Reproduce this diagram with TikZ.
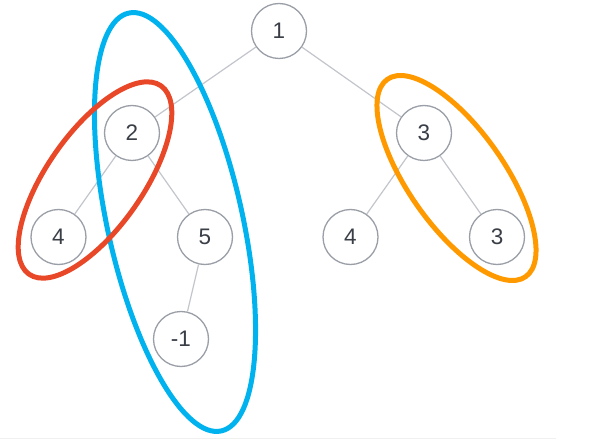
\documentclass[tikz,border=0pt]{standalone}
\usepackage{fontspec}
\setmainfont{Liberation Sans}
\usetikzlibrary{positioning}
\definecolor{ringgray}{HTML}{9A9EA6}
\definecolor{edgegray}{HTML}{C2C5CB}
\definecolor{numgray}{HTML}{3A3E47}
\definecolor{skyblue}{HTML}{00B2EE}
\definecolor{redring}{HTML}{E84828}
\definecolor{orangering}{HTML}{FF9900}

\begin{document}
\begin{tikzpicture}[
    x=1pt, y=1pt,
    on grid,
    vert/.style={circle, draw=ringgray, line width=1.3pt, fill=white, minimum size=55pt, inner sep=0pt, text=numgray, font=\fontsize{22.5}{22.5}\selectfont},
    edge/.style={draw=edgegray, line width=1.2pt},
    ring/.style={line width=5pt}
]
    \useasboundingbox (0,0) rectangle (602,445);

    % Nodes
    \node [vert] (root) at (279,414) {1};
    \node [vert, below left=102pt and 147pt of root] (left) {2};
    \node [vert, below right=102pt and 145pt of root] (right) {3};
    \node [vert, below left=104pt and 73.5pt of left] (leftleft) {4};
    \node [vert, below right=104pt and 73pt of left] (leftright) {5};
    \node [vert, below left=104pt and 73.5pt of right] (rightleft) {4};
    \node [vert, below right=104pt and 73pt of right] (rightright) {3};
    \node [vert, below left=102pt and 24pt of leftright] (leaf) {-1};

    % Paths
    \path [edge] (root) -- (left);
    \path [edge] (root) -- (right);
    \path [edge] (left) -- (leftleft);
    \path [edge] (left) -- (leftright);
    \path [edge] (right) -- (rightleft);
    \path [edge] (right) -- (rightright);
    \path [edge] (leftright) -- (leaf);

    % Rings
    \draw [ring, draw=skyblue] (175,223) ellipse [x radius=67.5pt, y radius=214pt, rotate=12.5];
    \draw [ring, draw=redring] (95,265) ellipse [x radius=115pt, y radius=48pt, rotate=55];
    \draw [ring, draw=orangering] (456.5,267) ellipse [x radius=120.5pt, y radius=48pt, rotate=-55];

    % Bottom rule
    \draw [gray!12, line width=1pt] (0,7) -- (556,7);

\end{tikzpicture}
\end{document}
